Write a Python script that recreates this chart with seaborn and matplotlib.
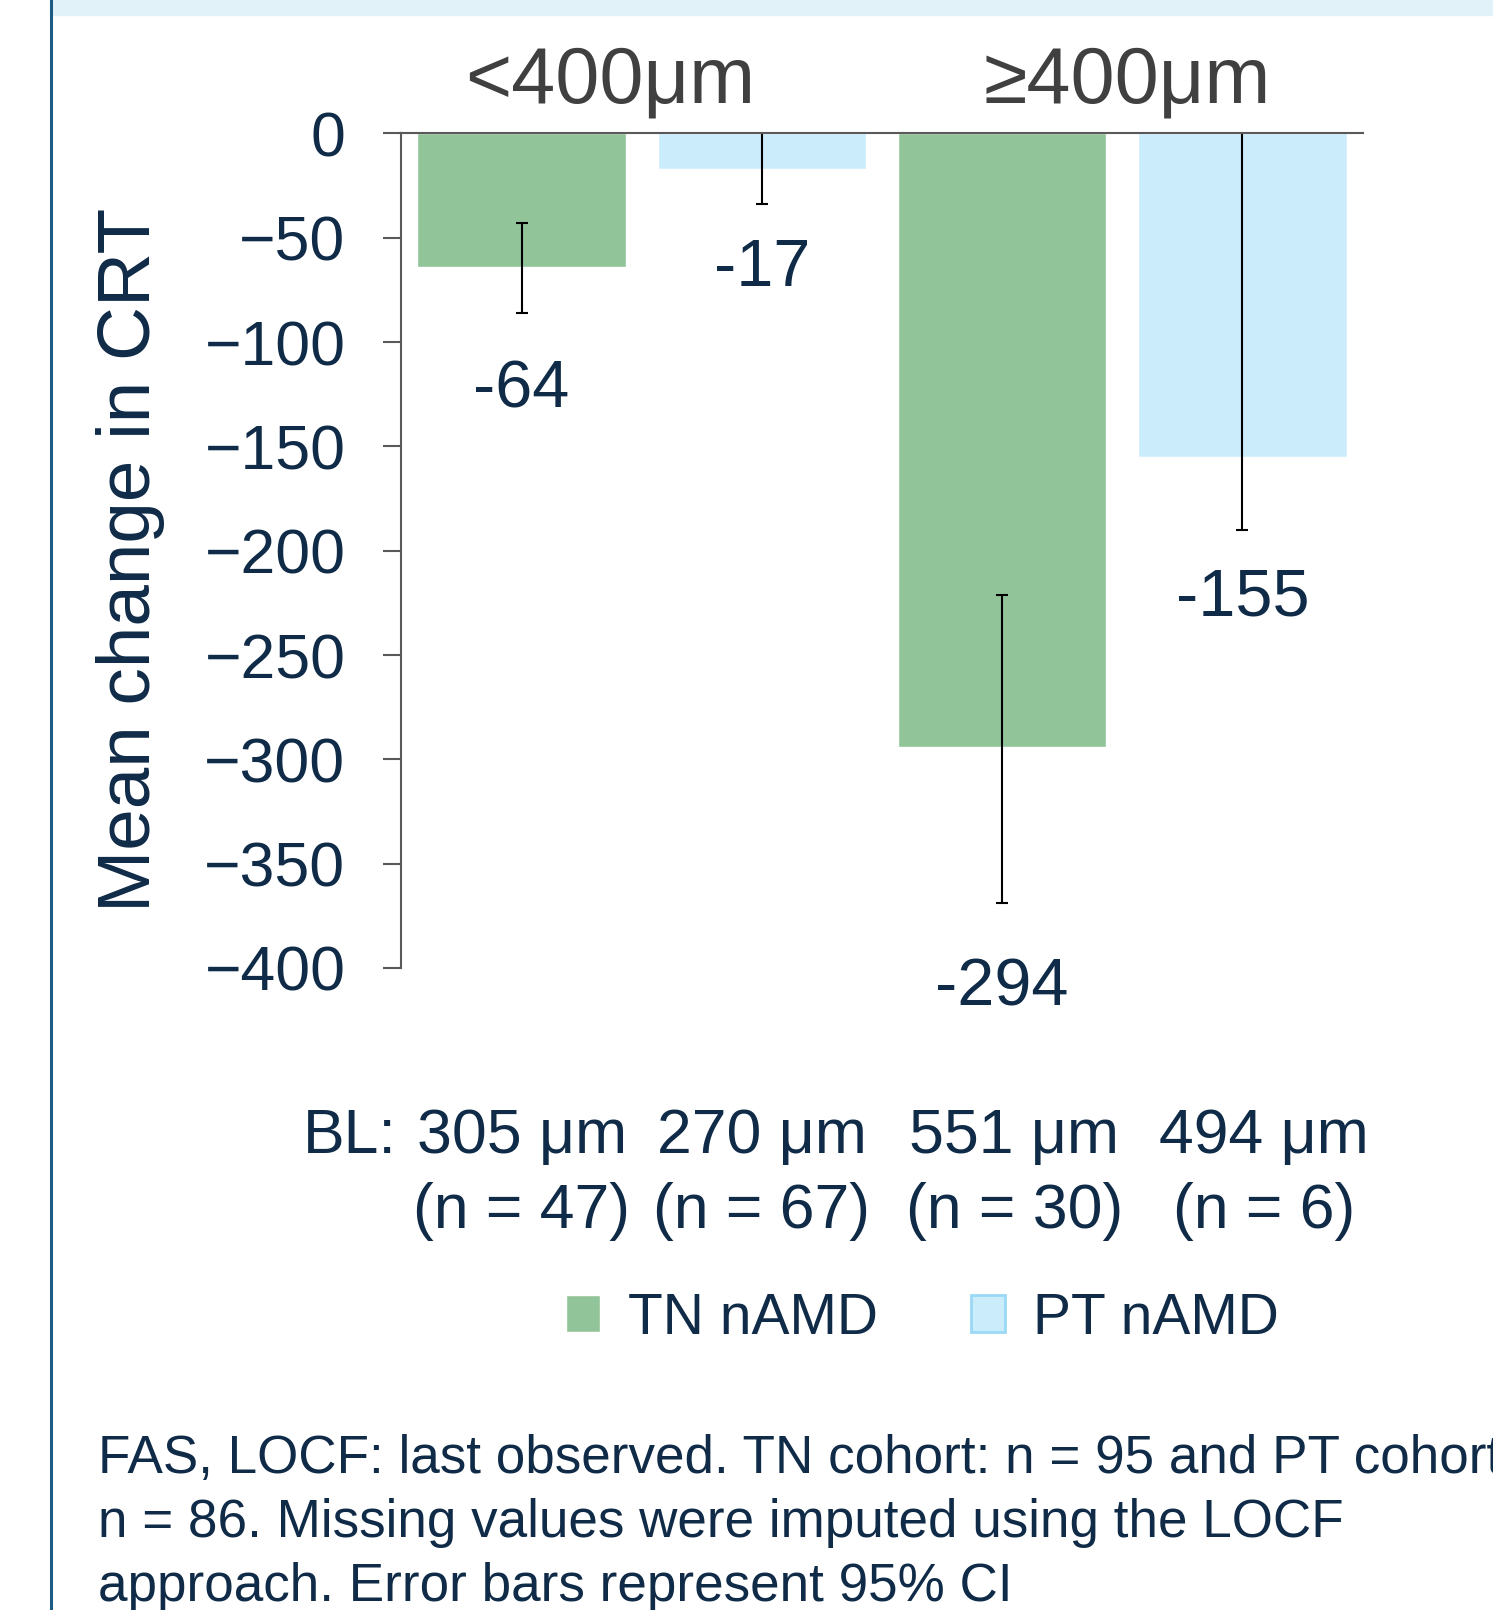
import numpy as np
import pandas as pd
import matplotlib.pyplot as plt
import seaborn as sns
from matplotlib.patches import Rectangle
from matplotlib.lines import Line2D
from matplotlib.transforms import blended_transform_factory

# values
bars = ["<400 TN", "<400 PT", ">=400 TN", ">=400 PT"]
cohort = ["TN nAMD", "PT nAMD", "TN nAMD", "PT nAMD"]
change = [-64, -17, -294, -155]
ci_low = [-86, -34, -369, -190]
ci_high = [-43, 3, -221, 3]
label_y = [-123, -65, -410, -223]
baseline = ["305 μm", "270 μm", "551 μm", "494 μm"]
n_pat = [47, 67, 30, 6]
bl_shift = [0, 0, 0.05, 0.09]
groups = ["<400μm", "≥400μm"]
group_x = [0.37, 2.52]
yticks = [0, -50, -100, -150, -200, -250, -300, -350, -400]
footnote = [
    "FAS, LOCF: last observed. TN cohort: n = 95 and PT cohort:",
    "n = 86. Missing values were imputed using the LOCF",
    "approach. Error bars represent 95% CI",
]

navy = "#0f2b47"
green = "#92c499"
blue = "#cbecfb"
grey = "#595959"

sns.set_style("white")
plt.rcParams["font.family"] = ["Liberation Sans", "DejaVu Sans"]

df = pd.DataFrame({"bar": bars, "cohort": cohort, "change": change})

fig = plt.figure(figsize=(14.93, 16.10), dpi=100)
ax = fig.add_axes([0.2689, 0.3988, 0.6437, 0.5183])

sns.barplot(data=df, x="bar", y="change", hue="cohort", dodge=False,
            palette={"TN nAMD": green, "PT nAMD": blue}, saturation=1,
            width=0.867, errorbar=None, ax=ax)

xpos = np.arange(len(bars))
chg = np.array(change)
ax.errorbar(xpos, chg, yerr=[chg - np.array(ci_low), np.array(ci_high) - chg],
            fmt="none", ecolor="black", elinewidth=1.5, capsize=4.3, capthick=1.5)

ax.set_ylim(-400, 0)
ax.set_xlim(-0.5, 3.5)
ax.set_yticks(yticks)
ax.set_xticks([])
ax.set_xlabel("")
ax.set_ylabel("")
ax.tick_params(axis="y", direction="out", length=13.3, width=1.5, color=grey,
               pad=27, labelsize=45, labelcolor=navy, left=True)
for s in ["right", "bottom"]:
    ax.spines[s].set_visible(False)
for s in ["left", "top"]:
    ax.spines[s].set_color(grey)
    ax.spines[s].set_linewidth(1.5)

# value labels
for i, v in enumerate(change):
    ax.text(i, label_y[i], f"{v}", ha="center", va="center", fontsize=48,
            color=navy, clip_on=False)

# group headers and baseline rows
tr = blended_transform_factory(ax.transData, ax.transAxes)
for gx, g in zip(group_x, groups):
    ax.text(gx, 1.037, g, transform=tr, ha="center", va="baseline",
            fontsize=57, color="#404040")
for i in range(len(bars)):
    ax.text(i + bl_shift[i], -0.2025, baseline[i], transform=tr, ha="center",
            va="center", fontsize=45, color=navy)
    ax.text(i + bl_shift[i], -0.2924, f"(n = {n_pat[i]})", transform=tr,
            ha="center", va="center", fontsize=45, color=navy)
ax.text(-0.52, -0.2025, "BL:", transform=tr, ha="right", va="center",
        fontsize=45, color=navy)

fig.text(0.0871, 0.6524, "Mean change in CRT", rotation=90, ha="center",
         va="center", fontsize=53.8, color=navy)

# legend
handles, labels = ax.get_legend_handles_labels()
if ax.legend_ is not None:
    ax.legend_.remove()
leg = fig.legend(handles, labels, loc="center", bbox_to_anchor=(0.618, 0.181),
                 ncol=2, frameon=False, fontsize=41, handlelength=0.6,
                 handleheight=0.63, handletextpad=0.49, columnspacing=1.63,
                 labelcolor=navy)
leg.legend_handles[1].set_edgecolor("#9ad8f5")
leg.legend_handles[1].set_linewidth(2)

# footnote
for k, line in enumerate(footnote):
    fig.text(97.5 / 1493, 1 - (1459 + 64 * k) / 1610, line, ha="left",
             va="center", fontsize=38.2, color=navy)

# poster frame: left rule and header band
fig.add_artist(Rectangle((52 / 1493, 1 - 15 / 1610), 1, 15 / 1610,
                         transform=fig.transFigure, color="#e1f2f9", zorder=0))
fig.add_artist(Line2D([51 / 1493, 51 / 1493], [0, 1], transform=fig.transFigure,
                      color="#1d5b82", linewidth=2.2))

fig.savefig("out.png", dpi=100)
